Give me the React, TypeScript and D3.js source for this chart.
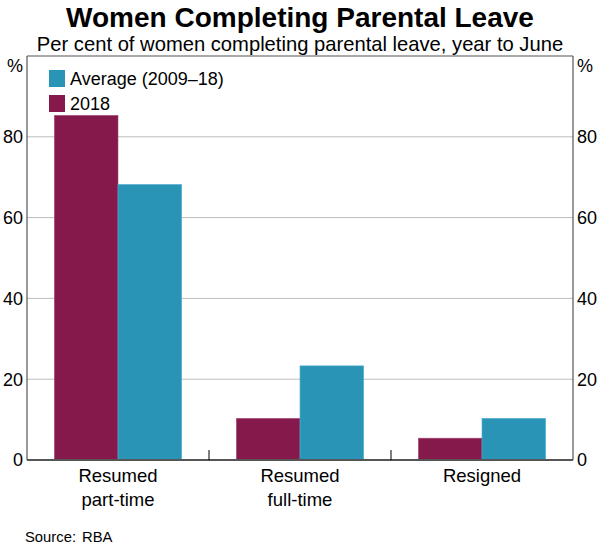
import * as d3 from 'd3'

const categories = ['Resumed\npart-time', 'Resumed\nfull-time', 'Resigned']
const seriesNames = ['2018', 'Average (2009–18)']
const values2018 = [85.3, 10.3, 5.4]
const valuesAverage = [68.2, 23.3, 10.3]
const yTicks = [0, 20, 40, 60, 80]

const colors: Record<string, string> = {
  '2018': '#86194c',
  'Average (2009–18)': '#2a94b6',
}

const width = 600
const height = 546
const margin = { top: 56, right: 27, bottom: 86, left: 27 }
const font = "Arial, 'Liberation Sans', sans-serif"

export default function App() {
  const x = d3
    .scaleBand<string>()
    .domain(categories)
    .range([margin.left, width - margin.right])
  const xInner = d3
    .scaleBand<string>()
    .domain(seriesNames)
    .range([0, x.bandwidth()])
    .paddingOuter(0.43)
  const y = d3
    .scaleLinear()
    .domain([0, 100])
    .range([height - margin.bottom, margin.top])

  const x0 = margin.left
  const x1 = width - margin.right
  const yBase = y(0)

  const valuesBySeries: Record<string, number[]> = {
    '2018': values2018,
    'Average (2009–18)': valuesAverage,
  }

  // legend order: average first, then 2018
  const legendOrder = ['Average (2009–18)', '2018']

  return (
    <div style={{ position: 'absolute', left: 0, top: 0 }}>
      <svg width={width} height={height} style={{ display: 'block', background: '#fff' }} fontFamily={font}>
        <text x={width / 2} y={27} textAnchor="middle" fontSize={28} fontWeight="bold" fill="#000">
          Women Completing Parental Leave
        </text>
        <text x={width / 2} y={51} textAnchor="middle" fontSize={20.2} fill="#000">
          Per cent of women completing parental leave, year to June
        </text>

        {/* gridlines */}
        {yTicks
          .filter((t) => t > 0)
          .map((t) => (
            <line key={t} x1={x0} x2={x1} y1={y(t)} y2={y(t)} stroke="#bdbdbd" strokeWidth={1} />
          ))}

        {/* bars */}
        {categories.map((c, i) => (
          <g key={c}>
            {seriesNames.map((s) => {
              const v = valuesBySeries[s][i]
              return (
                <rect
                  key={s}
                  x={(x(c) ?? 0) + (xInner(s) ?? 0)}
                  y={y(v)}
                  width={xInner.bandwidth()}
                  height={yBase - y(v)}
                  fill={colors[s]}
                  stroke={s === '2018' ? '#a84a78' : '#4fb0d0'}
                  strokeWidth={0.6}
                />
              )
            })}
          </g>
        ))}

        {/* frame */}
        <line x1={x0} x2={x1} y1={margin.top} y2={margin.top} stroke="#555" strokeWidth={1.2} />
        <line x1={x0} x2={x0} y1={margin.top} y2={yBase} stroke="#555" strokeWidth={1.2} />
        <line x1={x1} x2={x1} y1={margin.top} y2={yBase} stroke="#555" strokeWidth={1.2} />
        <line x1={x0} x2={x1} y1={yBase} y2={yBase} stroke="#555" strokeWidth={2} />

        {/* category separators */}
        {categories.slice(1).map((c) => (
          <line key={c} x1={x(c)} x2={x(c)} y1={yBase - 10} y2={yBase} stroke="#000" strokeWidth={1} />
        ))}

        {/* y labels */}
        {yTicks.map((t) => (
          <g key={t} fontSize={18} fill="#000">
            <text x={x0 - 4} y={y(t)} dy="0.35em" textAnchor="end">{t}</text>
            <text x={x1 + 4} y={y(t)} dy="0.35em" textAnchor="start">{t}</text>
          </g>
        ))}
        <text x={x0 - 4} y={66} dy="0.35em" textAnchor="end" fontSize={18}>%</text>
        <text x={x1 + 4} y={66} dy="0.35em" textAnchor="start" fontSize={18}>%</text>

        {/* category labels */}
        {categories.map((c) => (
          <text key={c} x={(x(c) ?? 0) + x.bandwidth() / 2} y={482} textAnchor="middle" fontSize={18.5} fill="#000">
            {c.split('\n').map((line, j) => (
              <tspan key={j} x={(x(c) ?? 0) + x.bandwidth() / 2} dy={j === 0 ? 0 : 24}>
                {line}
              </tspan>
            ))}
          </text>
        ))}

        {/* legend */}
        {legendOrder.map((s, i) => (
          <g key={s} transform={`translate(49, ${70 + i * 25})`}>
            <rect width={16} height={17} fill={colors[s]} />
            <text x={21} y={8.5} dy="0.35em" fontSize={18} fill="#000">{s}</text>
          </g>
        ))}

        <text x={25} y={542} fontSize={14.8} fill="#000">
          Source:
          <tspan x={82}>RBA</tspan>
        </text>
      </svg>
    </div>
  )
}
